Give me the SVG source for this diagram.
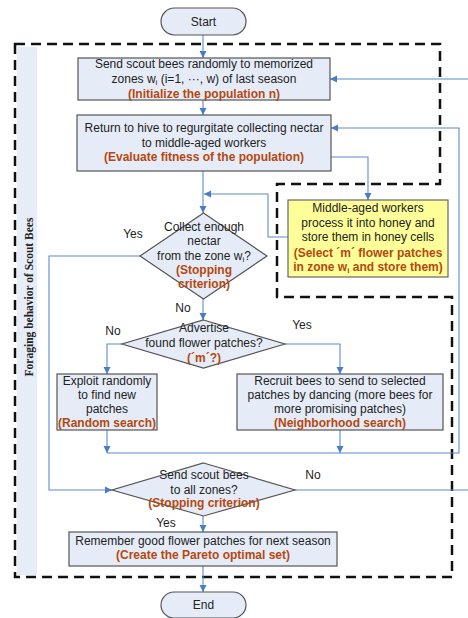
<svg xmlns="http://www.w3.org/2000/svg" width="468" height="618" viewBox="0 0 468 618">
<defs>
<marker id="ah" markerWidth="8" markerHeight="8" refX="7" refY="4" orient="auto" markerUnits="userSpaceOnUse">
<path d="M0,0.5 L7,4 L0,7.5 Z" fill="#4A7EC4"/>
</marker>
<style>
.box{fill:#E6ECF7;stroke:#555;stroke-width:1.2}
.yel{fill:#FFFF99;stroke:#666;stroke-width:1.2}
.t{font-family:"Liberation Sans",Arial,sans-serif;font-size:12px;fill:#222;text-anchor:middle}
.b{font-family:"Liberation Sans",Arial,sans-serif;font-size:12px;font-weight:bold;fill:#B5480F;text-anchor:middle}
.lbl{font-family:"Liberation Sans",Arial,sans-serif;font-size:12px;fill:#222;text-anchor:middle}
.c{fill:none;stroke:#5B8BD0;stroke-width:1.1}
.ar{marker-end:url(#ah)}
.sub{font-size:8px}
</style>
</defs>
<rect width="468" height="618" fill="#fff"/>
<g id="band">
<rect x="17" y="47" width="20" height="528" fill="#E6EDF7"/>
<text x="0" y="0" transform="translate(33,297) rotate(-90)" font-family="'Liberation Serif','Times New Roman',serif" font-size="11.5" font-weight="bold" fill="#222" text-anchor="middle">Foraging behavior of Scout Bees</text>
</g>
<g id="region">
<path d="M15,44 H440 V184 H277 V297 H452 V577 H15 Z" fill="none" stroke="#111" stroke-width="2.5" stroke-dasharray="10,6"/>
</g>
<g id="connectors">
<path class="c ar" d="M203,35 V58"/>
<path class="c ar" d="M203,100 V115"/>
<path class="c ar" d="M203,171 V213"/>
<path class="c ar" d="M331,157 H368 V200"/>
<path class="c ar" d="M288,237 H268 V194 H204"/>
<path class="c ar" d="M140,256 H49 V490 H112"/>
<path class="c ar" d="M203,299 V320"/>
<path class="c ar" d="M122,344 H107 V374"/>
<path class="c ar" d="M285,344 H340 V374"/>
<path class="c ar" d="M107,430 V453"/>
<path class="c ar" d="M340,430 V453"/>
<path class="c ar" d="M107,453 H459 V128 H331"/>
<path class="c" d="M295,490 H468"/>
<path class="c ar" d="M468,79 H330"/>
<path class="c ar" d="M203,516 V532"/>
<path class="c ar" d="M203,566 V592"/>
</g>
<g id="start">
<rect x="161" y="8" width="85" height="27" rx="13.5" class="box"/>
<text x="203.5" y="26" class="t">Start</text>
</g>
<g id="init">
<rect x="78" y="58" width="252" height="42" class="box"/>
<text x="204" y="68" class="t">Send scout bees randomly to memorized</text>
<text x="204" y="83" class="t">zones w<tspan class="sub" dy="2">i</tspan><tspan dy="-2"> (i=1, ···, w) of last season</tspan></text>
<text x="204" y="98" class="b">(Initialize the population n)</text>
</g>
<g id="evaluate">
<rect x="77" y="115" width="254" height="56" class="box"/>
<text x="204" y="132" class="t">Return to hive to regurgitate collecting nectar</text>
<text x="204" y="147" class="t">to middle-aged workers</text>
<text x="204" y="161" class="b">(Evaluate fitness of the population)</text>
</g>
<g id="select">
<rect x="288" y="200" width="160" height="77" class="yel"/>
<text x="368" y="212" class="t">Middle-aged workers</text>
<text x="368" y="227" class="t">process it into honey and</text>
<text x="368" y="241" class="t">store them in honey cells</text>
<text x="368" y="257" class="b">(Select ´m´ flower patches</text>
<text x="368" y="271" class="b">in zone w<tspan class="sub" dy="2">i</tspan><tspan dy="-2"> and store them)</tspan></text>
</g>
<g id="collect">
<path d="M203.5,213 L267,256 L203.5,299 L140,256 Z" class="box"/>
<text x="204" y="231" class="t">Collect enough</text>
<text x="204" y="245" class="t">nectar</text>
<text x="204" y="260" class="t">from the zone w<tspan class="sub" dy="2">i</tspan><tspan dy="-2">?</tspan></text>
<text x="204" y="274" class="b">(Stopping</text>
<text x="204" y="288" class="b">criterion)</text>
<text x="133" y="238" class="lbl">Yes</text>
<text x="183" y="312" class="lbl">No</text>
</g>
<g id="advertise">
<path d="M203.5,320 L285,344 L203.5,368 L122,344 Z" class="box"/>
<text x="204" y="332" class="t">Advertise</text>
<text x="204" y="347" class="t">found flower patches?</text>
<text x="204" y="362" class="b">(´m´?)</text>
<text x="113" y="335" class="lbl">No</text>
<text x="302" y="329" class="lbl">Yes</text>
</g>
<g id="random">
<rect x="57" y="374" width="100" height="56" class="box"/>
<text x="107" y="385" class="t">Exploit randomly</text>
<text x="107" y="399" class="t">to find new</text>
<text x="107" y="413" class="t">patches</text>
<text x="107" y="427" class="b">(Random search)</text>
</g>
<g id="neighbor">
<rect x="237" y="374" width="206" height="56" class="box"/>
<text x="340" y="385" class="t">Recruit bees to send to selected</text>
<text x="340" y="399" class="t">patches by dancing (more bees for</text>
<text x="340" y="413" class="t">more promising patches)</text>
<text x="340" y="427" class="b">(Neighborhood search)</text>
</g>
<g id="allzones">
<path d="M203.5,463 L295,490 L203.5,516 L112,490 Z" class="box"/>
<text x="204" y="479" class="t">Send scout bees</text>
<text x="204" y="494" class="t">to all zones?</text>
<text x="204" y="507" class="b">(Stopping criterion)</text>
<text x="313" y="479" class="lbl">No</text>
<text x="166" y="527" class="lbl">Yes</text>
</g>
<g id="pareto">
<rect x="69" y="532" width="268" height="34" class="box"/>
<text x="203" y="545" class="t">Remember good flower patches for next season</text>
<text x="203" y="559" class="b">(Create the Pareto optimal set)</text>
</g>
<g id="end">
<rect x="161" y="592" width="85" height="26" rx="13" class="box"/>
<text x="203.5" y="609" class="t">End</text>
</g>
</svg>
